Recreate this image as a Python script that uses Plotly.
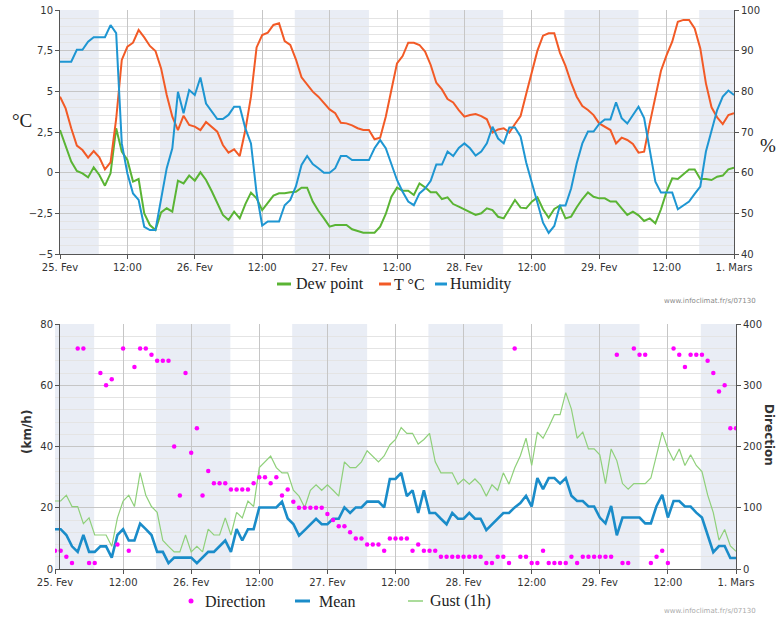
import plotly.graph_objects as go

# ---------------- data (hourly, 25 Feb 00:00 -> 1 Mar 00:00) ----------------
hours = list(range(121))
tick_hours = [0, 12, 24, 36, 48, 60, 72, 84, 96, 108, 120]
tick_labels = ["25. Fev", "12:00", "26. Fev", "12:00", "27. Fev", "12:00",
               "28. Fev", "12:00", "29. Fev", "12:00", "1. Mars"]
night_start = [0, 17.8, 41.8, 65.8, 89.8, 113.8]
night_end = [6.9, 30.9, 55.0, 78.9, 103.0, 120]

temp_c = [4.67, 3.95, 2.73, 1.66, 1.39, 0.92, 1.33, 0.94, 0.20, 0.64, 3.3, 6.93, 7.75, 7.99, 8.77, 8.32,
          7.79, 7.48, 6.41, 4.77, 3.44, 2.62, 3.50, 2.93, 2.83, 2.62, 3.11, 2.83, 2.52, 1.70, 1.23, 1.43,
          1.02, 2.62, 4.67, 7.7,
          8.46, 8.61, 9.08, 9.18, 8.09, 7.85, 6.97, 5.86, 5.45, 4.98, 4.67, 4.26, 3.89, 3.65, 3.07, 3.03,
          2.91, 2.73, 2.62, 2.62, 2.05, 2.15, 3.44, 5.08, 6.72, 7.17, 7.99, 7.99, 7.85, 7.44, 6.62, 5.53,
          5.12, 4.53, 4.32, 3.85, 3.44, 3.54, 3.61, 3.48, 3.28, 2.46, 2.66, 2.73, 2.46, 2.99,
          3.48, 4.84, 6.15, 7.50, 8.42, 8.57, 8.57, 7.38, 6.56, 5.53, 4.67, 4.10, 3.85, 3.54, 3.03, 2.83,
          2.62, 1.80, 2.15, 2.01, 1.76, 1.23, 1.29, 3.03, 4.71, 6.27, 7.23, 8.05, 9.28, 9.39, 9.39, 8.87,
          7.64, 5.49, 4.02, 3.40, 2.99, 3.54, 3.65]

humidity = [87.3, 87.3, 87.3, 90.2, 90.2, 92.2, 93.3, 93.3, 93.3, 96.3, 94.3, 67.2, 59.8, 54.9, 53.3, 46.7,
            45.9, 45.9, 53.3, 61.1, 66.0, 79.9, 74.6, 80.3, 79.1, 83.4, 77.0, 75.0, 73.2, 73.2, 74.2, 76.2,
            76.2, 70.9, 67.2, 55.0,
            47.0, 48.0, 48.0, 48.0, 52.0, 53.3, 56.6, 61.9, 64.1, 62.1, 61.1, 60.0, 60.0, 61.1, 64.1, 64.1,
            63.1, 63.1, 63.1, 63.1, 66.0, 68.0, 66.0, 62.3, 58.2, 55.3, 52.9, 52.0, 54.9, 56.1, 58.0, 62.0,
            62.0, 65.2, 64.1, 66.1, 67.2, 66.0, 64.2, 65.2, 67.2, 71.3, 68.4, 67.2, 71.1, 71.1,
            68.9, 62.5, 57.5, 52.6, 47.7, 45.2, 46.9, 51.9, 51.9, 56.1, 62.3, 67.2, 70.1, 70.1, 72.0, 73.1,
            73.1, 77.3, 73.4, 72.1, 74.2, 76.2, 73.4, 65.2, 57.8, 55.1, 55.1, 55.1, 51.0, 51.9, 52.9, 54.8,
            56.6, 65.2, 70.1, 75.4, 78.7, 80.2, 79.1]

dew_point = [2.62, 1.60, 0.68, 0.10, -0.04, -0.29, 0.33, -0.14, -0.80, -0.04, 2.73, 1.29, 0.78, -0.55, -0.39,
             -2.50, -3.22, -3.52, -2.44, -2.19, -2.40, -0.49, -0.66, -0.18, -0.49, 0.02, -0.45, -1.13, -1.89,
             -2.60, -2.91, -2.40, -2.81, -1.93, -1.23, -1.58,
             -2.30, -1.84, -1.41, -1.27, -1.27, -1.21, -1.17, -0.92, -0.92, -1.78, -2.34, -2.81, -3.32, -3.22,
             -3.22, -3.22, -3.48, -3.59, -3.69, -3.69, -3.69, -3.32, -2.54, -1.48, -0.92, -1.11, -1.11, -1.37,
             -0.66, -0.90, -1.21, -1.21, -1.62, -1.52, -1.93, -2.09, -2.25, -2.40, -2.60, -2.50, -2.19, -2.30,
             -2.71, -2.81, -2.25, -1.68,
             -2.15, -2.19, -1.78, -1.52, -2.25, -2.77, -2.23, -2.03, -2.81, -2.70, -2.13, -1.62, -1.21, -1.48,
             -1.58, -1.58, -1.78, -1.78, -2.19, -2.60, -2.40, -2.62, -2.97, -2.81, -3.11, -2.25, -1.17, -0.35,
             -0.39, -0.08, 0.20, 0.20, -0.39, -0.39, -0.45, -0.25, -0.18, 0.20, 0.31]

wind_mean = [13.0, 13.0, 11.1, 7.4, 5.6, 11.1, 5.6, 5.6, 7.4, 7.4, 3.7, 11.1, 13.0, 9.3, 9.3, 14.8, 13.0,
             11.1, 5.6, 5.6, 1.9, 3.7, 3.7, 3.7, 3.7, 1.9, 3.7, 5.6, 5.6, 7.4, 9.3, 5.6, 13.0, 9.3, 13.0, 13.0,
             20.1, 20.1, 20.1, 20.1, 22.0, 16.5, 14.7, 10.9, 12.7, 14.6, 16.4, 14.6, 14.6, 16.4, 16.4, 20.1,
             18.3, 20.1, 20.1, 22.0, 22.0, 22.0, 20.1, 29.4, 29.4, 31.4, 23.8, 25.7, 18.3, 25.7, 18.3, 18.3,
             16.4, 14.6, 18.3, 16.4, 16.4, 18.3, 16.4, 16.4, 12.7, 14.6, 16.4, 18.3, 18.3, 20.1,
             21.5, 23.9, 20.4, 29.7, 26.1, 29.7, 29.7, 27.9, 29.7, 23.9, 22.2, 22.2, 20.4, 20.4, 16.8, 14.9,
             20.6, 11.0, 16.8, 16.8, 16.8, 16.8, 14.9, 14.9, 20.6, 24.2, 16.8, 22.2, 22.2, 20.4, 20.4, 18.4,
             16.8, 11.3, 5.5, 7.5, 7.5, 3.6, 3.6]

wind_gust = [22.2, 22.2, 24.1, 20.4, 20.4, 14.8, 16.7, 11.1, 11.1, 11.1, 7.4, 16.7, 22.2, 24.1, 20.4, 31.5,
             24.1, 20.4, 18.5, 9.3, 7.4, 5.6, 5.6, 11.1, 5.6, 7.4, 5.6, 13.0, 11.1, 11.1, 16.7, 11.1, 18.5,
             16.7, 22.2, 20.4,
             33.1, 35.0, 36.9, 33.1, 31.4, 31.4, 25.7, 23.8, 20.1, 25.7, 27.5, 25.7, 27.5, 25.7, 23.8, 35.0,
             33.1, 33.1, 35.0, 38.6, 36.9, 35.0, 36.9, 40.5, 42.3, 46.2, 44.3, 44.3, 40.8, 42.3, 44.3, 35.0,
             31.4, 31.4, 31.4, 27.7, 29.4, 27.7, 29.4, 27.5, 23.8, 27.5, 25.7, 31.4, 27.7, 33.0,
             37.0, 42.7, 33.8, 44.7, 42.7, 46.4, 50.4, 50.4, 57.6, 52.2, 42.7, 44.7, 39.2, 39.2, 37.3, 27.9,
             39.2, 35.4, 27.9, 26.1, 27.9, 27.9, 27.9, 29.7, 37.0, 44.7, 39.2, 35.4, 39.2, 33.8, 37.3, 33.8,
             31.8, 24.2, 18.4, 9.4, 12.9, 7.5, 5.8]

wind_dir = [30, 30, 20, 10, 360, 360, 10, 10, 320, 300, 310, 40, 360, 30, 330, 360, 360, 350, 340, 340, 340,
            200, 120, 320, 190, 230, 120, 160, 140, 140, 140, 130, 130, 130, 130, 140,
            150, 150, 140, 150, 120, 130, 110, 100, 100, 100, 100, 100, 90, 80, 70, 70, 60, 50, 50, 40, 40,
            40, 30, 50, 50, 50, 50, 30, 40, 30, 30, 30, 20, 20, 20, 20, 20, 20, 20, 20, 10, 10, 20, 20, 10,
            360,
            20, 20, 10, 10, 30, 10, 10, 10, 10, 20, 10, 20, 20, 20, 20, 20, 20, 350, 10, 10, 360, 350, 350,
            10, 20, 30, 10, 360, 350, 330, 350, 350, 350, 340, 320, 290, 300, 230, 230]

# ---------------- figure ----------------
W, H = 777, 618


def px(x):
    return x / W


def py(y):
    return 1 - y / H


C_T = "#f25a26"
C_HUM = "#1e96d2"
C_DEW = "#5ab434"
C_MEAN = "#1a8cc9"
C_GUST = "#8fd07a"
C_DIR = "#ff00ff"
NIGHT = "#e9edf5"
GRID = "#c6c6c6"
MINOR = "#e4e4e4"
AXIS = "#555555"

fig = go.Figure()

fig.add_trace(go.Scatter(x=hours, y=dew_point, mode="lines", name="Dew point",
                         line=dict(color=C_DEW, width=2), xaxis="x", yaxis="y"))
fig.add_trace(go.Scatter(x=hours, y=temp_c, mode="lines", name="T °C",
                         line=dict(color=C_T, width=2), xaxis="x", yaxis="y"))
fig.add_trace(go.Scatter(x=hours, y=humidity, mode="lines", name="Humidity",
                         line=dict(color=C_HUM, width=2), xaxis="x", yaxis="y2"))

fig.add_trace(go.Scatter(x=hours, y=wind_gust, mode="lines", name="Gust (1h)",
                         line=dict(color=C_GUST, width=1.2), xaxis="x2", yaxis="y3"))
fig.add_trace(go.Scatter(x=hours, y=wind_mean, mode="lines", name="Mean",
                         line=dict(color=C_MEAN, width=2.6), xaxis="x2", yaxis="y3"))
fig.add_trace(go.Scatter(x=hours, y=wind_dir, mode="markers", name="Direction",
                         marker=dict(color=C_DIR, size=4.5), xaxis="x2", yaxis="y4"))

shapes = []
for s, e in zip(night_start, night_end):
    shapes.append(dict(type="rect", xref="x", yref="y domain", x0=s, x1=e, y0=0, y1=1,
                       fillcolor=NIGHT, line=dict(width=0), layer="below"))
    shapes.append(dict(type="rect", xref="x2", yref="y3 domain", x0=s, x1=e, y0=0, y1=1,
                       fillcolor=NIGHT, line=dict(width=0), layer="below"))


# legend symbols (paper coordinates)
def hline(x0, x1, y, color, width):
    return dict(type="line", xref="paper", yref="paper", x0=px(x0), x1=px(x1), y0=py(y), y1=py(y),
                line=dict(color=color, width=width))


shapes += [hline(277, 291, 284, C_DEW, 3), hline(379, 391, 284, C_T, 3), hline(435, 447, 284, C_HUM, 3),
           hline(295, 310, 601, C_MEAN, 3), hline(408, 423, 601, C_GUST, 1.5),
           dict(type="circle", xref="paper", yref="paper", x0=px(188.5), x1=px(193.5),
                y0=py(603.5), y1=py(598.5), fillcolor=C_DIR, line=dict(width=0))]

SERIF = "Liberation Serif"
ann = []


def txt(x, y, s, size=16, family=SERIF, color="#222", xanchor="left", angle=0, bold=False):
    ann.append(dict(x=px(x), y=py(y), xref="paper", yref="paper", text=("<b>%s</b>" % s) if bold else s,
                    showarrow=False, xanchor=xanchor, yanchor="middle", textangle=angle,
                    font=dict(family=family, size=size, color=color)))


txt(294, 284, "Dew point")
txt(392, 284, "T °C")
txt(448, 284, "Humidity")
txt(203, 601, "Direction")
txt(317, 601, "Mean")
txt(428, 601, "Gust (1h)")
txt(22, 120, "°C", size=19, xanchor="center")
txt(768, 146, "%", size=19, xanchor="center")
txt(27, 432, "(km/h)", size=12, family="DejaVu Sans", xanchor="center", angle=-90, bold=True, color="#333")
txt(769, 435, "Direction", size=12, family="DejaVu Sans", xanchor="center", angle=90, bold=True, color="#333")
txt(662, 301, "www.infoclimat.fr/s/07130", size=7, family="DejaVu Sans", color="#888")
txt(662, 611, "www.infoclimat.fr/s/07130", size=7, family="DejaVu Sans", color="#aaa")

common_x = dict(range=[0, 120], tickmode="array", tickvals=tick_hours, ticktext=tick_labels,
                showgrid=True, gridcolor=GRID, gridwidth=1, showline=True, linecolor=AXIS, linewidth=1,
                ticks="outside", ticklen=4, tickcolor=AXIS, zeroline=False, automargin=False,
                tickfont=dict(family="DejaVu Sans", size=10, color="#333"))
common_y = dict(showline=True, linecolor=AXIS, linewidth=1, ticks="outside", ticklen=4, tickcolor=AXIS,
                zeroline=False, automargin=False, tickfont=dict(family="DejaVu Sans", size=10, color="#333"))

fig.update_layout(
    width=W, height=H, margin=dict(l=0, r=0, t=0, b=0, autoexpand=False),
    paper_bgcolor="white", plot_bgcolor="white", showlegend=False,
    separators=", ",
    font=dict(family="DejaVu Sans", size=10, color="#333"),
    xaxis=dict(domain=[px(60), px(734)], anchor="y", **common_x),
    yaxis=dict(domain=[py(254), py(10)], range=[-5, 10], tick0=-5, dtick=2.5,
               showgrid=True, gridcolor=GRID,
               minor=dict(tick0=-5, dtick=0.5, showgrid=True, gridcolor=MINOR), **common_y),
    yaxis2=dict(overlaying="y", side="right", anchor="x", range=[40, 100], dtick=10, showgrid=False,
                **common_y),
    xaxis2=dict(domain=[px(55), px(736)], anchor="y3", **common_x),
    yaxis3=dict(domain=[py(569), py(324)], range=[0, 80], dtick=20, showgrid=True, gridcolor=GRID,
                minor=dict(tick0=0, dtick=4, showgrid=True, gridcolor=MINOR), **common_y),
    yaxis4=dict(overlaying="y3", side="right", anchor="x2", range=[0, 400], dtick=100, showgrid=False,
                **common_y),
    shapes=shapes, annotations=ann,
)

fig.write_html("out.html", config={"displayModeBar": False},
               post_script="document.body.style.margin='0';")
